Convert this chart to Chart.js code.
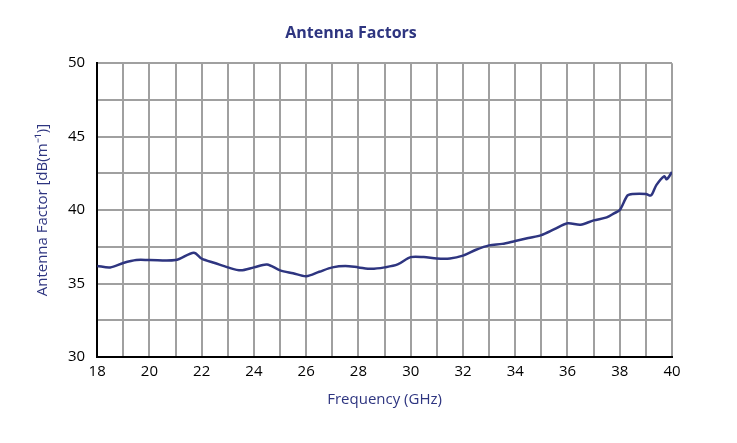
<!DOCTYPE html>
<html><head><meta charset="utf-8">
<script src="https://cdn.jsdelivr.net/npm/chart.js@4/dist/chart.umd.min.js"></script>
<style>body{margin:0;background:#fff}#wrap{width:737px;height:443px}</style>
</head><body><div id="wrap"><canvas id="c"></canvas></div>
<script>
const freqs = [18,18.5,19,19.5,20,21,21.7,22,22.5,23,23.5,24,24.5,25,25.5,26,26.5,27,27.5,28,28.5,29,29.5,30,30.5,31,31.5,32,32.5,33,33.5,34,34.5,35,35.5,36,36.5,37,37.5,37.8,38,38.3,38.5,39,39.2,39.4,39.7,39.8,40];
const factors = [36.2,36.1,36.4,36.6,36.6,36.6,37.1,36.7,36.4,36.1,35.9,36.1,36.3,35.9,35.7,35.5,35.8,36.1,36.2,36.1,36.0,36.1,36.3,36.8,36.8,36.7,36.7,36.9,37.3,37.6,37.7,37.9,38.1,38.3,38.7,39.1,39.0,39.3,39.5,39.8,40.0,41.0,41.1,41.1,41.0,41.7,42.3,42.1,42.6];
const ink = '#2e3580';
new Chart(document.getElementById('c'), {
  type: 'line',
  data: { datasets: [{ data: freqs.map((f, i) => ({x: f, y: factors[i]})), borderColor: ink, borderWidth: 2.5, pointRadius: 0, tension: 0.3 }] },
  options: {
    responsive: true, maintainAspectRatio: false, animation: false,
    layout: { padding: { left: 30, right: 65, top: 18, bottom: 30 } },
    plugins: {
      legend: { display: false },
      title: { display: true, text: 'Antenna Factors', color: ink, font: { family: 'Open Sans', size: 16, weight: 'bold' }, padding: { top: 6, bottom: 20 } }
    },
    scales: {
      x: { type: 'linear', min: 18, max: 40,
        ticks: { stepSize: 1, color: '#000', padding: 6, font: { family: 'Open Sans', size: 15 }, autoSkip: false, maxRotation: 0,
          callback: v => v % 2 === 0 ? v : '' },
        grid: { color: '#a0a0a0', lineWidth: 2, drawTicks: false },
        border: { color: '#000', width: 2 },
        title: { display: true, text: 'Frequency (GHz)', color: ink, font: { family: 'Open Sans', size: 15 } } },
      y: { min: 30, max: 50,
        ticks: { stepSize: 2.5, color: '#000', padding: 12, font: { family: 'Open Sans', size: 15 },
          callback: v => v % 5 === 0 ? v : '' },
        grid: { color: '#a0a0a0', lineWidth: 2, drawTicks: false },
        border: { color: '#000', width: 2 },
        title: { display: true, text: 'Antenna Factor [dB(m⁻¹)]', color: ink, font: { family: 'Open Sans', size: 15 } } }
    }
  }
});
</script></body></html>
